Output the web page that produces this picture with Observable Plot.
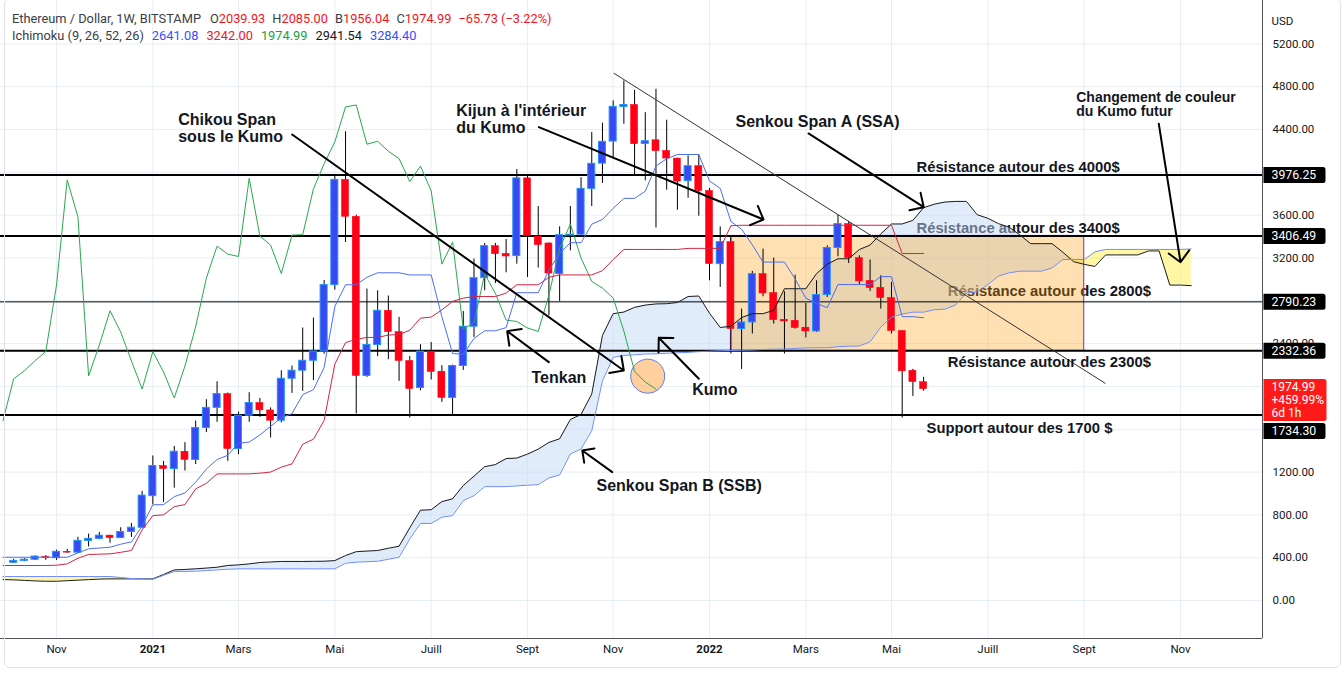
<!DOCTYPE html>
<html>
<head>
<meta charset="utf-8">
<script src="https://cdn.jsdelivr.net/npm/d3@7"></script>
<script src="https://cdn.jsdelivr.net/npm/@observablehq/plot@0.6"></script>
<style>
  body { margin: 0; background: #fff; }
  #wrap { position: relative; width: 1344px; height: 673px; overflow: hidden; background: #fff; }
  #legend { position: absolute; left: 12px; top: 10px; font-family: Roboto, "Liberation Sans", sans-serif; font-size: 12.8px; line-height: 17px; color: #3a3d48; white-space: nowrap; }
  #legend .grp { margin-left: 7px; }
  #legend .red { color: #f5141c; }
  #legend .blue { color: #3550ff; }
  #legend .green { color: #17a145; }
  #legend .black { color: #131722; }
  #border { position: absolute; left: 4px; top: -2px; width: 1335px; height: 668px; border: 1px solid #e0e3eb; border-radius: 6px; pointer-events: none; }
</style>
</head>
<body>
<div id="wrap">
  <div id="legend"></div>
  <div id="border"></div>
</div>
<script>
// ---------- DATA (weekly, Monday-based) ----------
const candleFirstWeek = -4;   // weeks relative to Monday 2020-11-02
const candleOpen = [352.68,370,381,408,396,455,447,557,576,606,
  583,640,680,975,1257,1228,1390,1313,1612,1800,
  1929,1415,1727,1845,1776,1680,2072,2147,2240,2327,
  2947,3930,3585,2098,2387,2707,2508,2238,1986,2325,
  2138,1892,2191,2558,3012,3311,3239,3218,3944,3401,
  3336,3050,3410,3418,3846,4082,4288,4612,4630,4266,
  4300,4201,4129,3918,4058,3827,3143,3349,2536,2598,
  3050,2873,2623,2614,2549,2514,2854,3293,3517,3199,
  2987,2922,2826,2518,2147,2039.93];
const candleHigh = [385,392,418,420,470,478,590,620,635,610,
  680,720,1020,1350,1300,1440,1475,1677,1876,2044,
  1939,1760,1942,1889,1800,2147,2191,2546,2639,2990,
  3975,4380,3600,2910,2894,2845,2645,2280,2390,2411,
  2194,2200,2700,3190,3336,3336,3373,4026,3967,3681,
  3340,3491,3681,3950,4372,4459,4668,4854,4767,4558,
  4777,4487,4132,4154,4164,3850,3491,3392,2723,3075,
  3283,3199,2885,3040,2776,2987,3314,3600,3541,3220,
  3181,3034,2972,2520,2160,2085];
const candleLow = [345,362,373,375,375,440,440,500,568,535,
  580,590,670,895,915,1050,1210,1270,1570,1665,
  1300,1363,1665,1711,1519,1660,1935,1954,2054,2300,
  2900,3345,1743,2085,2278,2250,2047,1705,1960,2060,
  1851,1727,2150,2458,2894,2962,3062,3143,3018,3106,
  2660,2794,3267,3400,3681,3896,4138,4450,3967,3921,
  3480,3834,3647,3759,3591,2987,2925,2303,2159,2490,
  2838,2583,2303,2536,2453,2505,2832,3211,3149,2950,
  2888,2723,2490,1705,1907,1956.04];
const candleClose = [370,381,410,396,455,447,557,576,606,583,
  640,680,980,1257,1228,1390,1313,1612,1800,1929,
  1415,1727,1845,1776,1680,2072,2147,2240,2327,2947,
  3930,3585,2098,2387,2707,2508,2238,1976,2325,2135,
  1892,2191,2558,3012,3311,3236,3214,3944,3405,3320,
  3055,3414,3418,3846,4080,4285,4612,4630,4263,4291,
  4198,4129,3914,4058,3826,3143,3349,2536,2598,3050,
  2869,2620,2607,2546,2514,2854,3293,3517,3199,2981,
  2919,2826,2518,2141,2040.72,1974.99];

const lineFirstWeek = -5;
const tenkan = [404,404,404,404,404,
  404,404,445,483,490,498,526,548,698,895,
  895,970,1005,1106,1228,1317,1357,1470,1480,1547,
  1627,1708,1746,1923,1970,2177,2747,2950,2950,3020,
  3062,3062,3062,3042,3042,3042,2652,2308,2300,2448,
  2520,2520,2550,2876,2876,2876,3088,3242,3343,3343,
  3516,3560,3664,3757,3757,3824,4060,4127,4167,4167,
  4167,3920,3851,3540,3468,3323,3162,3162,3162,3004,
  2825,2776,2736,2952,2952,2952,2952,3026,3026,2652,
  2652,2641.08];
const kijun = [327,327,327,327,327,
  330,342,395,430,433,436,450,467,660,793,
  800,877,896,1043,1095,1183,1183,1183,1183,1190,
  1200,1246,1276,1460,1507,1682,2208,2410,2440,2458,
  2458,2480,2485,2525,2638,2648,2715,2795,2825,2840,
  2840,2840,2872,2950,2950,2950,3020,3042,3042,3042,
  3042,3082,3186,3280,3280,3280,3280,3280,3280,3290,
  3290,3290,3290,3502,3506,3506,3506,3506,3506,3506,
  3506,3506,3506,3506,3506,3506,3506,3506,3506,3242,
  3242,3242];

const cloudFirstWeek = -5;   // leading spans already displaced 26 periods
const senkouA = [195,193,188,183,180,180,185,190,195,200,
  202,202,202,202,202,243,286,290,296,303,
  311,327,333,342,355,360,365,365,365,366,
  367,373,420,456,462,467,488,507,679,844,
  848,924,950,1074,1162,1250,1270,1326,1331,1368,
  1414,1477,1511,1691,1738,1930,2477,2680,2695,2739,
  2760,2771,2773,2784,2840,2845,2684,2551,2562,2644,
  2680,2680,2711,2913,2913,2913,3054,3142,3193,3193,
  3279,3321,3425,3518,3518,3552,3670,3703,3723,3729,
  3729,3605,3571,3521,3487,3415,3334,3334,3334,3255,
  3166,3141,3121,3229,3229,3229,3229,3266,3266,2947,
  2947,2941.54];
const senkouB = [224,224,224,224,224,224,224,224,224,224,
  224,215,205,202,199,235,271,272,274,280,
  286,292,296,296,296,296,296,296,296,296,
  296,296,348,358,362,367,385,404,576,720,
  720,778,793,934,980,1064,1064,1064,1071,1077,
  1083,1145,1173,1369,1416,1587,2054,2271,2290,2296,
  2303,2305,2310,2314,2318,2325,2330,2334,2336,2338,
  2340,2345,2348,2350,2355,2360,2362,2362,2371,2376,
  2378,2417,2554,2647,2677,2694,2694,2717,2722,2762,
  2874,2884,2952,3032,3062,3077,3077,3077,3108,3186,
  3186,3186,3257,3280,3280,3280,3280,3280,3280,3280,
  3280,3284.40];
const chikouShift = 25;

const levels = [3976.25, 3406.49, 2790.23, 2332.36, 1734.30];
const levelWidths = [2, 2, 1, 2, 2];

const yTicks = [0,400,800,1200,1600,2000,2400,2800,3200,3600,4000,4400,4800,5200];
const yTicksCoveredByLabels = [1600, 2000, 2800, 4000];
const xTickDates = ["2020-11-02","2021-01-04","2021-03-01","2021-05-03","2021-07-05","2021-09-06",
  "2021-11-01","2022-01-03","2022-03-07","2022-05-02","2022-07-04","2022-09-05","2022-11-07"];
const xTickLabels = ["Nov","2021","Mars","Mai","Juill","Sept","Nov","2022","Mars","Mai","Juill","Sept","Nov"];

const zoneStart = "2022-01-17", zoneEnd = "2022-09-05";
const trendStart = ["2021-11-01T10:00", 4927], trendEnd = ["2022-09-18T22:00", 2028];
const circleAt = ["2021-11-23T14:00", 2096];

const calloutTexts = ["Chikou Span\nsous le Kumo", "Kijun à l'intérieur\ndu Kumo", "Senkou Span A (SSA)", "Tenkan", "Kumo", "Senkou Span B (SSB)"];
const calloutDates = ["2021-01-20T14:00","2021-07-21T10:00","2022-01-20T00:00","2021-09-08T14:00","2021-12-22T17:00","2021-10-21T02:00"];
const calloutPrices = [4551, 4639, 4537, 2149, 2028, 1135];
const noteText = "Changement de couleur\ndu Kumo futur", noteDate = "2022-08-30T19:00", notePrice = 4747;

const levelTexts = ["Résistance autour des 4000$","Résistance autour des 3400$","Résistance autour des 2800$","Résistance autour des 2300$","Support autour des 1700 $"];
const levelTextDates = ["2022-05-18T08:00","2022-05-18T08:00","2022-06-07T19:00","2022-06-07T19:00","2022-05-24T22:00"];
const levelTextPrices = [4102, 3532, 2943, 2280, 1663];

const arrowFrom = [["2021-04-05T02:00",4354],["2021-09-13T10:00",4423],["2022-03-08T17:00",4364],["2022-10-23T19:00",4454],["2021-09-19T22:00",2227],["2021-12-27T00:00",2072],["2021-10-31T10:00",1199]];
const arrowTo = [["2021-11-07T23:00",2149],["2022-02-07T07:00",3560],["2022-05-23T02:00",3675],["2022-11-07T00:00",3161],["2021-08-23T17:00",2516],["2021-11-30T19:00",2455],["2021-10-11T19:00",1402]];

// ---------- BUILD ----------
const DAY = 864e5;
const baseMonday = Date.UTC(2020, 10, 2);
const weekDate = w => new Date(baseMonday + w * 7 * DAY);
const D = s => new Date(s.length <= 10 ? s + "T00:00Z" : s + "Z");

const candles = candleOpen.map((o, i) => ({
  date: weekDate(candleFirstWeek + i), open: o, high: candleHigh[i], low: candleLow[i], close: candleClose[i]
}));
const up = candles.filter(d => d.close >= d.open);
const down = candles.filter(d => d.close < d.open);
const halfBody = 2.3 * DAY;
const bx1 = d => new Date(+d.date - halfBody), bx2 = d => new Date(+d.date + halfBody);

const tenkanData = tenkan.map((v, i) => ({date: weekDate(lineFirstWeek + i), value: v}));
const kijunData = kijun.map((v, i) => ({date: weekDate(lineFirstWeek + i), value: v}));
const chikouData = candles.map((d, i) => ({date: weekDate(candleFirstWeek + i - chikouShift), value: d.close}))
  .filter(d => +d.date >= +weekDate(lineFirstWeek));
const cloud = senkouA.map((a, i) => ({date: weekDate(cloudFirstWeek + i), a, b: senkouB[i]}));

const callouts = calloutTexts.map((t, i) => ({text: t, date: D(calloutDates[i]), price: calloutPrices[i]}));
const levelNotes = levelTexts.map((t, i) => ({text: t, date: D(levelTextDates[i]), price: levelTextPrices[i]}));
const underNotes = levelNotes.slice(1, 3);
const overNotes = [levelNotes[0], levelNotes[3], levelNotes[4]];
const arrows = arrowFrom.map((f, i) => ({x1: D(f[0]), y1: f[1], x2: D(arrowTo[i][0]), y2: arrowTo[i][1]}));
const xTicks = xTickDates.map((d, i) => ({date: D(d), label: xTickLabels[i], year: /^\d{4}$/.test(xTickLabels[i])}));
const yTickLabels = yTicks.filter(v => !yTicksCoveredByLabels.includes(v));

function boxSymbol(w, top, bottom) {
  return {
    draw(ctx) {
      const x0 = 1, x1 = 1 + w, r = 2.5;
      ctx.moveTo(x0, top);
      ctx.lineTo(x1 - r, top);
      ctx.arcTo(x1, top, x1, top + r, r);
      ctx.lineTo(x1, bottom - r);
      ctx.arcTo(x1, bottom, x1 - r, bottom, r);
      ctx.lineTo(x0, bottom);
      ctx.closePath();
    }
  };
}

const lastIdx = candleClose.length - 1;
const priceLabel = [candleClose[lastIdx]];
const pct = (candleClose[lastIdx] / candleOpen[0] - 1) * 100;

const ann = {fontFamily: "'Liberation Sans', Arial, sans-serif", fontWeight: "bold", fill: "#131722", textAnchor: "start", lineAnchor: "top"};

const plot = Plot.plot({
  width: 1344,
  height: 673,
  marginTop: 0,
  marginRight: 82,
  marginBottom: 35,
  marginLeft: 0,
  x: {type: "utc", domain: [D("2020-09-26T09:07"), D("2022-12-30T14:24")], axis: null},
  y: {domain: [-355, 5606], axis: null},
  style: {fontFamily: "Roboto, 'Liberation Sans', sans-serif", background: "transparent", overflow: "visible"},
  marks: [
    // grid
    Plot.ruleY(yTicks, {stroke: "#e7eef5", strokeWidth: 1}),
    Plot.ruleX(xTicks, {x: "date", stroke: "#e7eef5", strokeWidth: 1}),
    // texts sitting under the cloud / zone
    Plot.text(underNotes, {...ann, x: "date", y: "price", text: "text", fontSize: 14.8}),
    // kumo
    Plot.areaY(cloud, {x: "date", y1: "b", y2: d => Math.max(d.a, d.b), fill: "#bfd6f7", fillOpacity: 0.47}),
    Plot.areaY(cloud, {x: "date", y1: "a", y2: d => Math.max(d.a, d.b), fill: "#fff04a", fillOpacity: 0.5}),
    // orange zone
    Plot.rect([0], {x1: () => D(zoneStart), x2: () => D(zoneEnd), y1: () => levels[3], y2: () => levels[1], fill: "#ff9800", fillOpacity: 0.3, stroke: "#9c27b0", strokeWidth: 1}),
    // horizontal levels
    ...levels.map((v, i) => Plot.ruleY([v], {stroke: "#000", strokeWidth: levelWidths[i]})),
    // circle
    Plot.dot([0], {x: () => D(circleAt[0]), y: () => circleAt[1], r: 17, fill: "#ffa94d", fillOpacity: 0.55, stroke: "#5b7cfa", strokeWidth: 1}),
    // candles
    Plot.ruleX(candles, {x: "date", y1: "low", y2: "high", stroke: "#000", strokeWidth: 1}),
    Plot.rect(down, {x1: bx1, x2: bx2, y1: "open", y2: "close", fill: "#ff0016", stroke: "#ff0016", strokeWidth: 0.5}),
    Plot.rect(up, {x1: bx1, x2: bx2, y1: "open", y2: "close", fill: "#3a48f4", stroke: "#2196f3", strokeWidth: 1}),
    // ichimoku lines
    Plot.line(cloud, {x: "date", y: "a", stroke: "#1b1b1b", strokeWidth: 1}),
    Plot.line(cloud, {x: "date", y: "b", stroke: "#6f8ef7", strokeWidth: 1}),
    Plot.line(chikouData, {x: "date", y: "value", stroke: "#2aa84e", strokeWidth: 1}),
    Plot.line(kijunData, {x: "date", y: "value", stroke: "#d6243f", strokeWidth: 1}),
    Plot.line(tenkanData, {x: "date", y: "value", stroke: "#4e6ef2", strokeWidth: 1}),
    // trend line
    Plot.link([0], {x1: () => D(trendStart[0]), y1: () => trendStart[1], x2: () => D(trendEnd[0]), y2: () => trendEnd[1], stroke: "#333", strokeWidth: 1}),
    // arrows
    Plot.arrow(arrows, {x1: "x1", y1: "y1", x2: "x2", y2: "y2", stroke: "#000", strokeWidth: 2, headLength: 11, headAngle: 90}),
    // annotation texts
    Plot.text(callouts, {...ann, x: "date", y: "price", text: "text", fontSize: 16, lineHeight: 1.06}),
    Plot.text([0], {...ann, x: () => D(noteDate), y: () => notePrice, text: () => noteText, fontSize: 14, lineHeight: 1.0}),
    Plot.text(overNotes, {...ann, x: "date", y: "price", text: "text", fontSize: 14.8}),
    // frame lines
    Plot.ruleX([D("2022-12-30T14:24")], {stroke: "#50535e", strokeWidth: 1}),
    Plot.ruleY([-355], {stroke: "#50535e", strokeWidth: 1}),
    // x axis labels
    Plot.text(xTicks.filter(d => !d.year), {x: "date", text: "label", frameAnchor: "bottom", dy: 14, fontSize: 11.5, fill: "#131722"}),
    Plot.text(xTicks.filter(d => d.year), {x: "date", text: "label", frameAnchor: "bottom", dy: 14, fontSize: 11.5, fontWeight: "bold", fill: "#131722"}),
    // y axis labels
    Plot.text(["USD"], {frameAnchor: "top-right", dx: 9, dy: 16, text: d => d, textAnchor: "start", fontSize: 11.5, fill: "#131722"}),
    Plot.text(yTickLabels, {y: d => d, text: d => d.toFixed(2), frameAnchor: "right", dx: 10, textAnchor: "start", fontSize: 11.5, fill: "#131722"}),
    // level boxes on axis
    Plot.dot(levels.slice(0, 4), {y: d => d, frameAnchor: "right", symbol: boxSymbol(62, -8, 8), r: 4, fill: "#000", stroke: "none"}),
    Plot.text(levels.slice(0, 4), {y: d => d, text: d => d.toFixed(2), frameAnchor: "right", dx: 9, textAnchor: "start", fontSize: 12.3, fill: "#fff"}),
    Plot.dot(levels.slice(4), {y: d => d, frameAnchor: "right", symbol: boxSymbol(62, 8, 24), r: 4, fill: "#000", stroke: "none"}),
    Plot.text(levels.slice(4), {y: d => d, text: d => d.toFixed(2), frameAnchor: "right", dx: 9, dy: 16, textAnchor: "start", fontSize: 12.3, fill: "#fff"}),
    // current price box
    Plot.dot(priceLabel, {y: d => d, frameAnchor: "right", symbol: boxSymbol(63, -10, 32), r: 4, fill: "#ff1a1a", stroke: "none"}),
    Plot.text(priceLabel, {y: d => d, text: d => `${d.toFixed(2)}\n+${pct.toFixed(2)}%\n6d 1h`, frameAnchor: "right", dx: 9, dy: -7, textAnchor: "start", lineAnchor: "top", lineHeight: 1.08, fontSize: 12, fill: "#fff"})
  ]
});

const wrap = document.getElementById("wrap");
plot.style.position = "absolute";
plot.style.left = "0";
plot.style.top = "0";
wrap.insertBefore(plot, wrap.firstChild);

// legend (header)
const f2 = v => v.toFixed(2);
const chg = candleClose[lastIdx] - candleClose[lastIdx - 1];
const chgPct = chg / candleClose[lastIdx - 1] * 100;
const minus = v => (v < 0 ? "\u2212" : "+") + Math.abs(v).toFixed(2);
document.getElementById("legend").innerHTML =
  `<div>Ethereum / Dollar, 1W, BITSTAMP<span class="grp" style="margin-left:9px">O<span class="red">${f2(candleOpen[lastIdx])}</span></span>` +
  `<span class="grp">H<span class="red">${f2(candleHigh[lastIdx])}</span></span>` +
  `<span class="grp">B<span class="red">${f2(candleLow[lastIdx])}</span></span>` +
  `<span class="grp">C<span class="red">${f2(candleClose[lastIdx])}</span></span>` +
  `<span class="grp red">${minus(chg)} (${minus(chgPct)}%)</span></div>` +
  `<div>Ichimoku (9, 26, 52, 26)<span class="grp blue" style="margin-left:8px">${f2(tenkan[tenkan.length-1])}</span>` +
  `<span class="grp red" style="margin-left:8px">${f2(kijun[kijun.length-1])}</span>` +
  `<span class="grp green" style="margin-left:8px">${f2(candleClose[lastIdx])}</span>` +
  `<span class="grp black" style="margin-left:8px">${f2(senkouA[senkouA.length-1])}</span>` +
  `<span class="grp blue" style="margin-left:8px">${f2(senkouB[senkouB.length-1])}</span></div>`;
</script>
</body>
</html>
